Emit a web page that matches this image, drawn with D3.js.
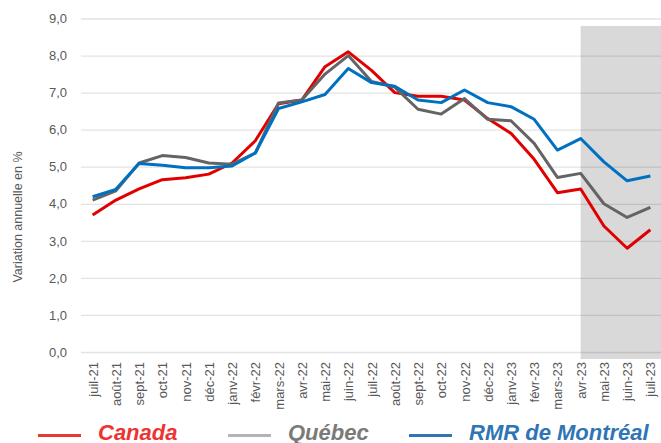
<!DOCTYPE html>
<html>
<head>
<meta charset="utf-8">
<script src="https://cdn.jsdelivr.net/npm/d3@7"></script>
<style>
  body { margin: 0; background: #fff; }
  svg { display: block; font-family: "Liberation Sans", Arial, sans-serif; }
</style>
</head>
<body>
<svg width="661" height="443"></svg>
<script>
// Data
const months = ["juil-21", "août-21", "sept-21", "oct-21", "nov-21", "déc-21", "janv-22", "févr-22",
    "mars-22", "avr-22", "mai-22", "juin-22", "juil-22", "août-22", "sept-22", "oct-22", "nov-22",
    "déc-22", "janv-23", "févr-23", "mars-23", "avr-23", "mai-23", "juin-23", "juil-23"];

const canada = [3.7, 4.1, 4.4, 4.65, 4.7, 4.8, 5.1, 5.7, 6.7, 6.8, 7.7, 8.1, 7.6, 7.0, 6.9, 6.9,
    6.8, 6.3, 5.9, 5.2, 4.3, 4.4, 3.4, 2.8, 3.3];
const quebec = [4.1, 4.35, 5.1, 5.3, 5.25, 5.1, 5.07, 5.37, 6.72, 6.8, 7.5, 8.0, 7.3, 7.15, 6.55, 6.42,
    6.84, 6.28, 6.24, 5.63, 4.71, 4.82, 4.0, 3.63, 3.9];
const montreal = [4.19, 4.39, 5.09, 5.04, 4.97, 4.97, 5.02, 5.37, 6.57, 6.75, 6.95, 7.65, 7.27, 7.17,
    6.8, 6.73, 7.07, 6.73, 6.62, 6.28, 5.45, 5.76, 5.13, 4.62, 4.75];

const yTicks = [0, 1, 2, 3, 4, 5, 6, 7, 8, 9];
const shadeFrom = "avr-23";

const series = [
    { name: "Canada", values: canada, color: "#e00000", legendLine: "#e8392e", legendText: "#ee3333" },
    { name: "Québec", values: quebec, color: "#646464", legendLine: "#b4b4b4", legendText: "#7a7a7a" },
    { name: "RMR de Montréal", values: montreal, color: "#0070c0", legendLine: "#2e75b6", legendText: "#2e75b6" }
];

const svg = d3.select("svg");
const margin = { top: 18.5, right: -1, bottom: 91, left: 81 };
const width = +svg.attr("width") - margin.left - margin.right;
const height = +svg.attr("height") - margin.top - margin.bottom;

const g = svg.append("g").attr("transform", `translate(${margin.left},${margin.top})`);

// Scales
const xScale = d3.scalePoint().domain(months).range([0, width]).padding(0.5);
const yScale = d3.scaleLinear().domain([0, 9]).range([height, 0]);

// Shaded period
g.append("rect")
    .attr("x", xScale(shadeFrom))
    .attr("y", yScale(8.8))
    .attr("width", width - xScale(shadeFrom))
    .attr("height", yScale(0) - yScale(8.8) + 7)
    .attr("fill", "#d9d9d9");

// Gridlines
g.append("g")
    .attr("class", "grid")
    .call(d3.axisLeft(yScale).tickValues(yTicks).tickSize(-width).tickFormat(""))
    .call(a => a.select(".domain").remove())
    .call(a => a.selectAll("line").attr("stroke", "#000").attr("stroke-opacity", 0.11).attr("stroke-width", 1.3));

// Y axis labels
g.append("g")
    .attr("class", "y-axis")
    .call(d3.axisLeft(yScale).tickValues(yTicks).tickSize(0).tickPadding(14)
        .tickFormat(d => d3.format(".1f")(d).replace(".", ",")))
    .call(a => a.select(".domain").remove())
    .call(a => a.selectAll("text").attr("fill", "#595959").style("font-size", "13px"));

// X axis labels
g.append("g")
    .attr("class", "x-axis")
    .attr("transform", `translate(0,${height})`)
    .call(d3.axisBottom(xScale).tickSize(0).tickPadding(0))
    .call(a => a.select(".domain").remove())
    .call(a => a.selectAll("text")
        .attr("fill", "#595959")
        .style("font-size", "13px")
        .attr("text-anchor", "end")
        .attr("transform", "translate(0,10) rotate(-90)")
        .attr("x", 0)
        .attr("y", 0)
        .attr("dy", "0.35em"));

// Y axis title
svg.append("text")
    .attr("text-anchor", "middle")
    .attr("transform", "translate(18,217) rotate(-90)")
    .attr("dy", "0.35em")
    .attr("fill", "#595959")
    .style("font-size", "12.5px")
    .text("Variation annuelle en %");

// Lines
const line = d3.line()
    .x((d, i) => xScale(months[i]))
    .y(d => yScale(d));

series.forEach(s => {
    g.append("path")
        .datum(s.values)
        .attr("class", "line")
        .attr("fill", "none")
        .attr("stroke", s.color)
        .attr("stroke-width", 3)
        .attr("stroke-linejoin", "round")
        .attr("d", line);
});

// Legend
const legendPos = [38, 228, 409];
const legend = svg.append("g").attr("class", "legend");
series.forEach((s, i) => {
    const lg = legend.append("g").attr("transform", `translate(${legendPos[i]},435.5)`);
    lg.append("line")
        .attr("x1", 0).attr("x2", 43)
        .attr("stroke", s.legendLine)
        .attr("stroke-width", 3);
    lg.append("text")
        .attr("x", 60)
        .attr("y", 4)
        .attr("fill", s.legendText)
        .style("font-size", "22px")
        .style("font-weight", "bold")
        .style("font-style", "italic")
        .text(s.name);
});
</script>
</body>
</html>
